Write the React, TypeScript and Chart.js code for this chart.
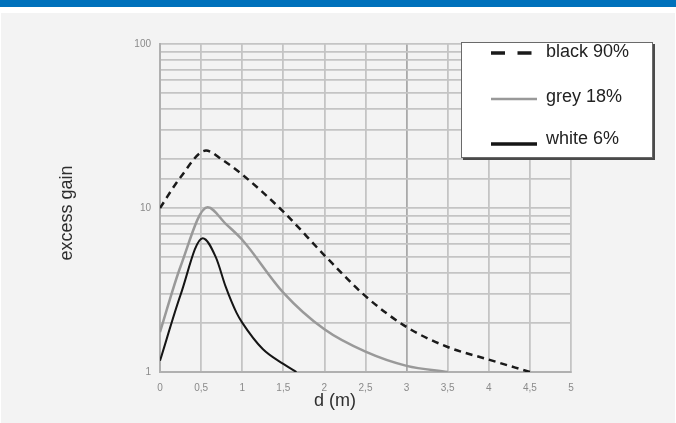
import React, { useEffect, useRef } from "react";
import { Chart, registerables } from "chart.js";

Chart.register(...registerables);

// ---- data ----
const seriesLabels = ["black 90%", "grey 18%", "white 6%"];

const black90X = [0, 0.25, 0.56, 0.75, 1, 1.5, 2, 2.5, 3, 3.5, 4, 4.5];
const black90Y = [10, 15.4, 22.4, 19.8, 16, 9.5, 5.15, 2.9, 1.88, 1.42, 1.19, 1.0];

const grey18X = [0, 0.25, 0.58, 0.8, 1, 1.5, 2, 2.5, 3, 3.5];
const grey18Y = [1.75, 4.4, 10.1, 8.0, 6.4, 3.05, 1.82, 1.33, 1.09, 1.0];

const white6X = [0, 0.25, 0.52, 0.68, 0.8, 0.93, 1, 1.25, 1.5, 1.66];
const white6Y = [1.17, 2.95, 6.55, 5.0, 3.3, 2.3, 2.0, 1.38, 1.12, 1.0];

const yTickLabels = [1, 10, 100];
const xTickStep = 0.5;
const xTitle = "d (m)";
const yTitle = "excess gain";

const toPoints = (xs: number[], ys: number[]) => xs.map((x, i) => ({ x, y: ys[i] }));

const FONT = '"Liberation Sans", Arial, Helvetica, sans-serif';

const overlayPlugin = {
  id: "overlay",
  afterDraw(chart: any) {
    const { ctx, chartArea: a } = chart;
    ctx.save();
    ctx.fillStyle = "#2e2e2e";
    ctx.font = `18px ${FONT}`;
    ctx.textAlign = "center";
    ctx.textBaseline = "middle";
    ctx.fillText(xTitle, a.left + 175, a.bottom + 29);
    ctx.save();
    ctx.translate(a.left - 93, (a.top + a.bottom) / 2 + 5);
    ctx.rotate(-Math.PI / 2);
    ctx.fillText(yTitle, 0, 0);
    ctx.restore();

    // legend box
    const bx = a.right - 110;
    const by = a.top - 2;
    const bw = 192;
    const bh = 116;
    ctx.fillStyle = "#4a4a4a";
    ctx.fillRect(bx + 2, by + 2, bw, bh);
    ctx.fillStyle = "#ffffff";
    ctx.fillRect(bx, by, bw, bh);
    ctx.strokeStyle = "#6a6a6a";
    ctx.lineWidth = 1;
    ctx.strokeRect(bx + 0.5, by + 0.5, bw - 1, bh - 1);

    const rowY = [by + 11, by + 57, by + 102];
    const textY = [by + 10, by + 55, by + 97];
    const sampleW = [3.5, 2.5, 3.5];
    chart.data.datasets.forEach((ds: any, i: number) => {
      ctx.beginPath();
      ctx.strokeStyle = ds.borderColor;
      ctx.lineWidth = sampleW[i];
      ctx.setLineDash(ds.borderDash && ds.borderDash.length ? [14, 12.5] : []);
      ctx.moveTo(bx + 30, rowY[i]);
      ctx.lineTo(bx + 76, rowY[i]);
      ctx.stroke();
      ctx.setLineDash([]);
      ctx.fillStyle = "#222222";
      ctx.font = `18px ${FONT}`;
      ctx.textAlign = "left";
      ctx.textBaseline = "middle";
      ctx.fillText(ds.label, bx + 85, textY[i]);
    });
    ctx.restore();
  },
};

export default function App() {
  const canvasRef = useRef<HTMLCanvasElement | null>(null);

  useEffect(() => {
    if (!canvasRef.current) return;
    const chart = new Chart(canvasRef.current, {
      type: "line",
      data: {
        datasets: [
          {
            label: seriesLabels[0],
            data: toPoints(black90X, black90Y),
            borderColor: "#1a1a1a",
            borderWidth: 2.5,
            borderDash: [7, 5],
            pointRadius: 0,
            cubicInterpolationMode: "monotone",
            fill: false,
          },
          {
            label: seriesLabels[1],
            data: toPoints(grey18X, grey18Y),
            borderColor: "#999999",
            borderWidth: 2.5,
            pointRadius: 0,
            cubicInterpolationMode: "monotone",
            fill: false,
          },
          {
            label: seriesLabels[2],
            data: toPoints(white6X, white6Y),
            borderColor: "#151515",
            borderWidth: 2,
            pointRadius: 0,
            cubicInterpolationMode: "monotone",
            fill: false,
          },
        ],
      },
      options: {
        animation: false,
        responsive: false,
        devicePixelRatio: 1,
        layout: { padding: { left: 120, top: 44, right: 105, bottom: 21 } },
        plugins: {
          legend: { display: false },
          tooltip: { enabled: false },
        },
        scales: {
          x: {
            type: "linear",
            min: 0,
            max: 5,
            afterFit: (s: any) => {
              s.height = 30;
            },
            ticks: {
              stepSize: xTickStep,
              padding: 10,
              color: "#8a8a8a",
              font: { family: FONT, size: 10 },
              callback: (v: any) => String(v).replace(".", ","),
            },
            grid: {
              color: (c: any) => (c.tick && c.tick.value === 3 ? "#a9a9a9" : "#c4c4c4"),
              lineWidth: 1.8,
              drawTicks: false,
            },
            border: { display: true, color: "#b0b0b0", width: 2 },
          },
          y: {
            type: "logarithmic",
            min: 1,
            max: 100,
            afterFit: (s: any) => {
              s.width = 40;
            },
            ticks: {
              autoSkip: false,
              padding: 9,
              color: "#8a8a8a",
              font: { family: FONT, size: 10 },
              callback: (v: any) => (yTickLabels.includes(Number(v)) ? String(Number(v)) : ""),
            },
            grid: { color: "#c4c4c4", lineWidth: 1.8, drawTicks: false },
            border: { display: true, color: "#b0b0b0", width: 2 },
          },
        },
      },
      plugins: [overlayPlugin],
    } as any);
    return () => chart.destroy();
  }, []);

  return (
    <div style={{ position: "fixed", left: 0, top: 0, width: 676, height: 423, background: "#ffffff", overflow: "hidden" }}>
      <div style={{ position: "absolute", left: 0, top: 0, width: 676, height: 7, background: "#0071bb" }} />
      <div style={{ position: "absolute", left: 1, top: 13, width: 674, height: 410, background: "#f3f3f3" }} />
      <canvas ref={canvasRef} width={676} height={423} style={{ position: "absolute", left: 0, top: 0, width: 676, height: 423 }} />
    </div>
  );
}
